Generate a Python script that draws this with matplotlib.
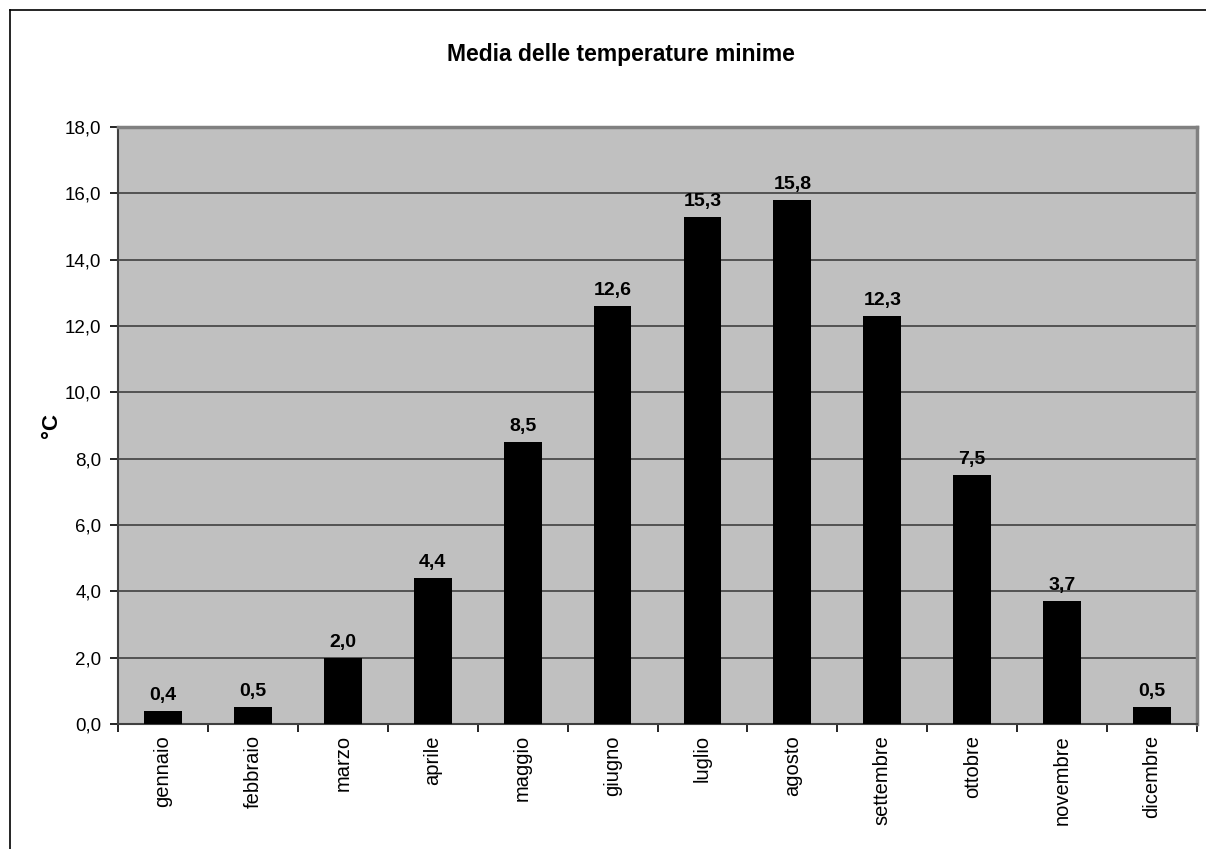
import matplotlib
matplotlib.use("Agg")
import matplotlib.pyplot as plt
from matplotlib.lines import Line2D
from matplotlib.ticker import FixedLocator, FuncFormatter

plt.rcParams['font.family'] = ['Liberation Sans', 'DejaVu Sans']

months = ["gennaio", "febbraio", "marzo", "aprile", "maggio", "giugno",
          "luglio", "agosto", "settembre", "ottobre", "novembre", "dicembre"]
t_min = [0.4, 0.5, 2.0, 4.4, 8.5, 12.6, 15.3, 15.8, 12.3, 7.5, 3.7, 0.5]
y_ticks = [0, 2, 4, 6, 8, 10, 12, 14, 16, 18]

fig = plt.figure(figsize=(12.06, 8.49), dpi=100)
W, H = 1206, 849

# chart frame (top and left edges)
fig.add_artist(Line2D([10 / W, 10 / W], [0, 1 - 10 / H], color='black', lw=1.2,
                      transform=fig.transFigure))
fig.add_artist(Line2D([10 / W, 1], [1 - 10 / H, 1 - 10 / H], color='black', lw=1.2,
                      transform=fig.transFigure))

ax = fig.add_axes([118 / W, 1 - 724 / H, (1197 - 118) / W, (724 - 127) / H])
ax.set_facecolor('#C0C0C0')

x = list(range(len(months)))
ax.bar(x, t_min, width=0.42, color='black', zorder=3)

for xi, v in zip(x, t_min):
    ax.annotate(f"{v:.1f}".replace('.', ','), (xi, v), xytext=(0, 5),
                textcoords='offset points', ha='center', va='bottom',
                fontsize=14, fontweight='bold', zorder=4)

ax.set_xlim(-0.5, len(months) - 0.5)
ax.set_ylim(0, 18)
ax.set_yticks(y_ticks)
ax.yaxis.set_major_formatter(FuncFormatter(lambda v, p: f"{v:.1f}".replace('.', ',')))
ax.yaxis.grid(True, color='#404040', lw=1.2, zorder=1)
ax.set_axisbelow(True)

ax.set_xticks(x)
ax.set_xticklabels(months, rotation=90, fontsize=14.5)
ax.xaxis.set_minor_locator(FixedLocator([i + 0.5 for i in range(-1, len(months))]))
ax.tick_params(axis='x', which='major', length=0, pad=8)
ax.tick_params(axis='x', which='minor', length=6, width=1.2, color='black', direction='out')
ax.tick_params(axis='y', length=6, width=1.2, color='black', direction='out',
               labelsize=13.5, pad=6)

for side in ['top', 'right']:
    ax.spines[side].set_color('#808080')
    ax.spines[side].set_linewidth(2.5)
for side in ['left', 'bottom']:
    ax.spines[side].set_color('#404040')
    ax.spines[side].set_linewidth(1.5)

ax.set_ylabel("°C", fontsize=16, fontweight='bold', labelpad=2)
fig.text((443 + 798) / 2 / W, 1 - 55 / H, "Media delle temperature minime",
         ha='center', va='center', fontsize=16.5, fontweight='bold')

fig.savefig("out.png", dpi=100)
